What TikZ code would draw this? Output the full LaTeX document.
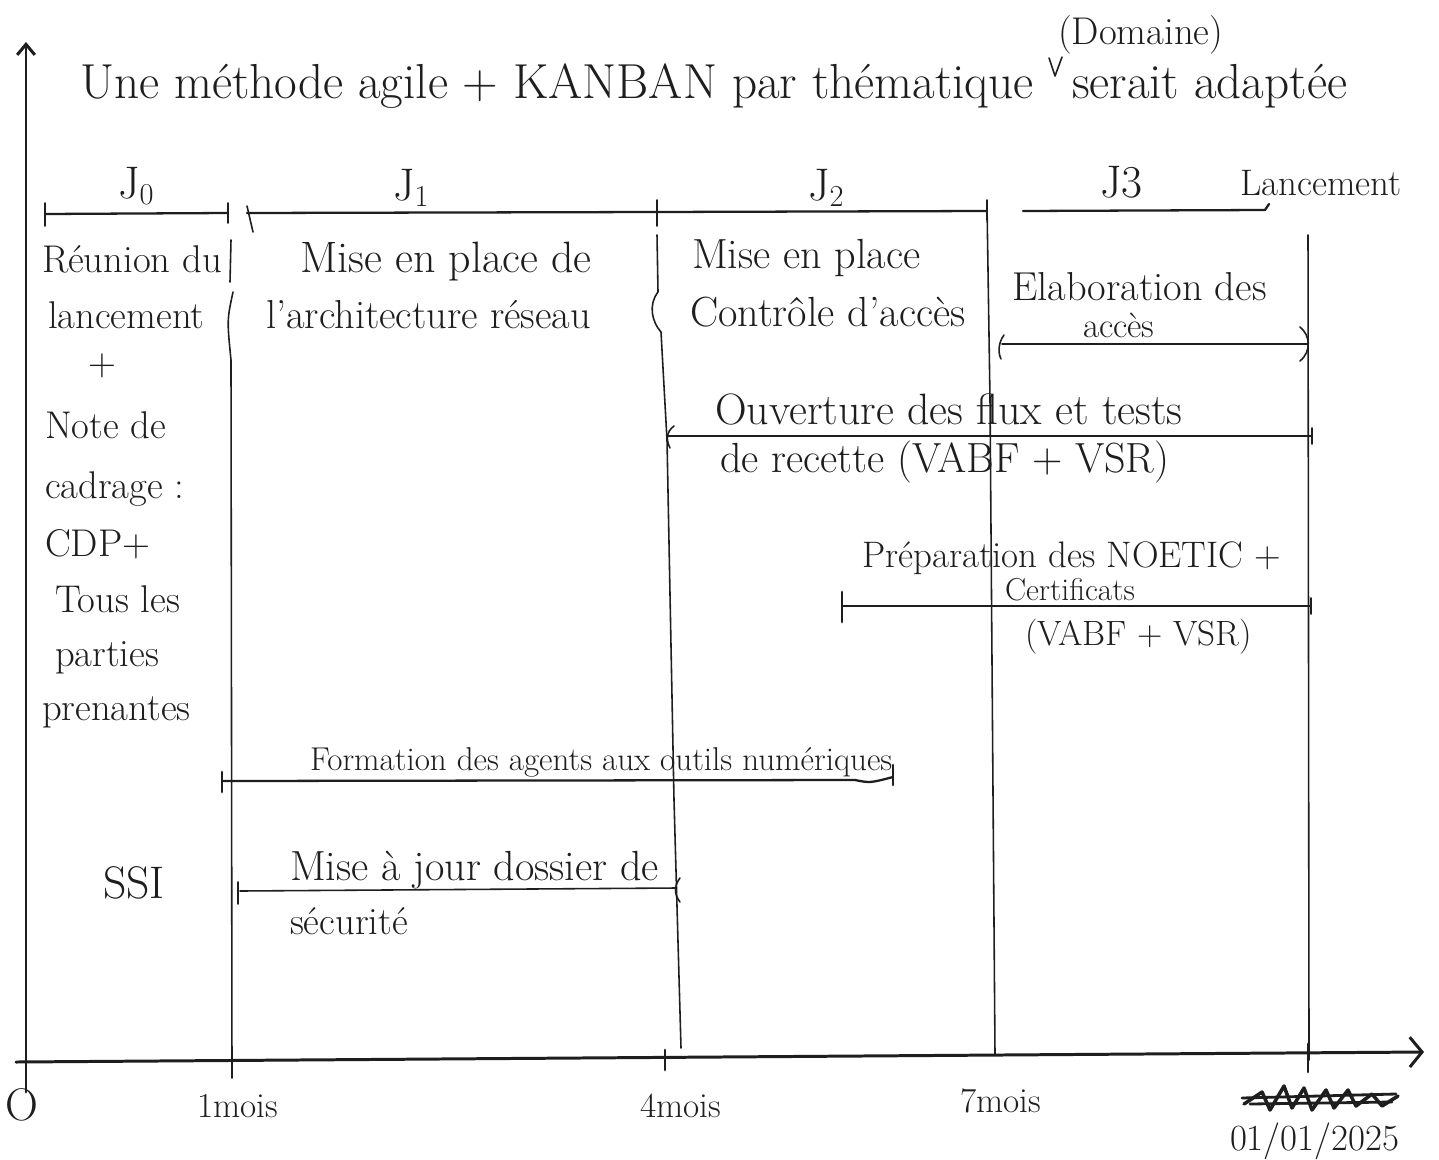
\documentclass[tikz,border=0pt]{standalone}
\usepackage{fontspec}
\usetikzlibrary{arrows.meta}
\definecolor{ink}{HTML}{1E1E1E}
\newcommand{\fsz}[1]{\fontsize{#1}{#1}\selectfont}
\tikzset{
  pen/.style={draw=ink, line width=0.9pt, line cap=round, line join=round},
  thickpen/.style={draw=ink, line width=1.6pt, line cap=round, line join=round},
  axisline/.style={draw=ink, line width=1.7pt, line cap=round},
  hw/.style={inner sep=0pt, outer sep=0pt, anchor=base west, text=ink, font=\fsz{20}},
  hwleft/.style={hw, font=\fsz{22}},
  hwbig/.style={hw, font=\fsz{26}},
  hwtitle/.style={hw, font=\fsz{28}},
}
\begin{document}
\begin{tikzpicture}[x=0.02cm,y=-0.02cm]
\useasboundingbox (0,0) rectangle (1439,1159);
\fill[white] (0,0) rectangle (1439,1159);

% ---------- title ----------
\node[hwtitle] (title1) at (80,98) {Une méthode agile + KANBAN par thématique};
\node[hwtitle] (title2) at (1072,98) {serait adaptée};
\node[hw, font=\fsz{22}] (domaine) at (1058,45) {(Domaine)};
\coordinate (caretL) at (1049,58);
\coordinate (caretM) at (1055,76);
\coordinate (caretR) at (1062,57);
\draw[pen] (caretL) -- (caretM) -- (caretR);

% ---------- axes ----------
\coordinate (yb) at (26,1092);
\coordinate (yt) at (26,42);
\coordinate (xl) at (16,1062);
\coordinate (xr) at (1424,1052);
\draw[axisline,-{Straight Barb[length=6pt,width=10pt]}] (yb) -- (yt);
\draw[axisline,-{Straight Barb[length=7pt,width=17pt]}] (xl) -- (xr);

% ---------- vertical dividers ----------
\draw[pen] (231,240) -- (230,282) (233,292) .. controls (227,320) .. (231,360) -- (232,1078);
\draw[pen] (657,235) -- (658,292) .. controls (648,305) and (652,322) .. (661,332) -- (667,440) -- (674,800) -- (681,1048);
\draw[pen] (987,205) -- (990,400) -- (995,1055);
\draw[pen] (1308,235) -- (1309,1060);
\draw[thickpen] (1308,1044) -- (1308,1072);
\draw[thickpen] (665,1050) -- (665,1070);

% ---------- phases ----------
\node[hwbig] (j0) at (118,198) {J$_0$};
\node[hwbig] (j1) at (393,200) {J$_1$};
\node[hwbig] (j2) at (808,200) {J$_2$};
\node[hwbig] (j3) at (1100,197) {J3};
\node[hw, font=\fsz{21}] (lanc) at (1240,195) {Lancement};

\coordinate (j0a) at (45,214);
\coordinate (j0b) at (228,213);
\draw[pen, line width=1.3pt] (j0a) -- (j0b);
\draw[pen] (45,203) -- (45,226);
\draw[pen] (228,203) -- (228,223);

\coordinate (j1a) at (247,213);
\coordinate (j1b) at (657,212);
\draw[pen, line width=1.3pt] (j1a) -- (j1b);
\draw[pen] (247,206) -- (253,232);
\draw[pen] (657,200) -- (657,226);

\coordinate (j2b) at (987,211);
\draw[pen, line width=1.3pt] (j1b) -- (j2b);
\draw[pen] (987,200) -- (987,220);

\coordinate (j3a) at (1023,211);
\coordinate (j3b) at (1265,210);
\draw[pen, line width=1.3pt] (j3a) -- (j3b) -- (1269,204);

% ---------- J0 column ----------
\node[hwleft] (t1) at (42,272) {Réunion du};
\node[hwleft] (t2) at (48,328) {lancement};
\node[hwleft] (t3) at (88,375) {+};
\node[hwleft] (t4) at (45,438) {Note de};
\node[hwleft] (t5) at (45,498) {cadrage :};
\node[hwleft] (t6) at (45,556) {CDP+};
\node[hwleft] (t7) at (55,612) {Tous les};
\node[hwleft] (t8) at (55,666) {parties};
\node[hwleft] (t9) at (42,720) {prenantes};

% ---------- J1 column ----------
\node[hw, font=\fsz{25}] (a1) at (300,272) {Mise en place de};
\node[hw, font=\fsz{23}] (a2) at (266,328) {l'architecture réseau};

% ---------- J2 column ----------
\node[hw, font=\fsz{24}] (b1) at (692,268) {Mise en place};
\node[hw, font=\fsz{24}] (b2) at (690,326) {Contrôle d'accès};

% ---------- J3 column ----------
\node[hw, font=\fsz{23}] (c1) at (1012,300) {Elaboration des};
\node[hw, font=\fsz{20}] (c2) at (1083,337) {accès};
\coordinate (c3a) at (1002,344);
\coordinate (c3b) at (1308,344);
\draw[pen] (c3a) -- (c3b);
\draw[pen] (1004,335) .. controls (998,343) and (998,353) .. (1001,359);
\draw[pen] (1300,327) .. controls (1310,335) and (1312,351) .. (1300,361);

% ---------- Ouverture ----------
\node[hw, font=\fsz{25}] (d1) at (715,424) {Ouverture des flux et tests};
\node[hw, font=\fsz{24}] (d2) at (720,472) {de recette (VABF + VSR)};
\coordinate (d3a) at (668,436);
\coordinate (d3b) at (1311,436);
\draw[pen] (d3a) -- (d3b);
\draw[pen] (674,426) .. controls (666,432) and (666,440) .. (670,448);
\draw[pen] (1312,428) -- (1312,444);

% ---------- Préparation ----------
\node[hw, font=\fsz{21}] (e1) at (862,567) {Préparation des NOETIC +};
\node[hw, font=\fsz{18}] (e2) at (1005,600) {Certificats};
\node[hw] (e3) at (1025,645) {(VABF + VSR)};
\coordinate (e4a) at (842,606);
\coordinate (e4b) at (1311,606);
\draw[pen] (e4a) -- (e4b);
\draw[thickpen] (842,592) -- (842,622);
\draw[pen] (1311,598) -- (1311,614);

% ---------- Formation ----------
\node[hw, font=\fsz{18.8}] (f1) at (310,770) {Formation des agents aux outils numériques};
\coordinate (f2a) at (222,781);
\coordinate (f2m) at (855,780);
\coordinate (f2b) at (893,777);
\draw[pen, line width=1.3pt] (f2a) -- (f2m) .. controls (870,783) .. (f2b);
\draw[thickpen] (222,772) -- (222,792);
\draw[thickpen] (893,765) -- (893,785);

% ---------- SSI ----------
\node[hwbig] (ssi) at (103,898) {SSI};
\node[hw, font=\fsz{24}] (g1) at (290,880) {Mise à jour dossier de};
\node[hw, font=\fsz{22}] (g2) at (290,934) {sécurité};
\coordinate (g3a) at (240,891);
\coordinate (g3b) at (676,888);
\draw[pen] (g3a) -- (g3b);
\draw[pen] (238,882) -- (238,904);
\draw[pen] (680,878) .. controls (674,886) and (674,894) .. (680,902);

% ---------- axis labels ----------
\node[hwbig] (o) at (6,1120) {O};
\node[hw] (m1) at (197,1117) {1mois};
\node[hw] (m4) at (640,1117) {4mois};
\node[hw] (m7) at (960,1112) {7mois};
\node[hw, font=\fsz{21}] (date) at (1230,1150) {01/01/2025};
\draw[draw=ink, line width=2pt, line cap=round, line join=round]
  (1244,1104) -- (1262,1092) -- (1270,1110) -- (1284,1086) -- (1292,1108) -- (1304,1088)
  -- (1312,1110) -- (1326,1090) -- (1334,1108) -- (1348,1090) -- (1356,1106) -- (1372,1094) -- (1382,1106) -- (1398,1096);
\draw[draw=ink, line width=1.6pt, line cap=round]
  (1242,1098) -- (1396,1094) (1250,1104) -- (1392,1102);
\end{tikzpicture}
\end{document}
